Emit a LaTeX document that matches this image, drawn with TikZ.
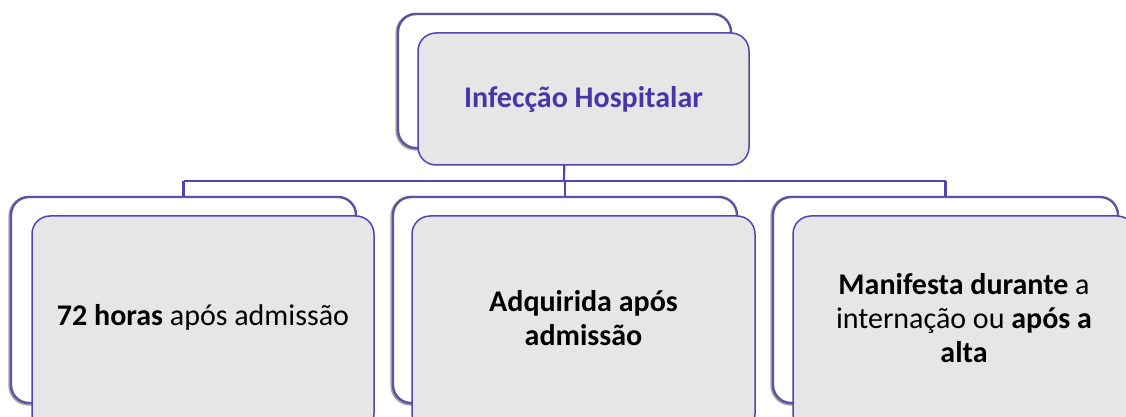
\documentclass[tikz,border=0pt]{standalone}
\usepackage{fontspec}
\setmainfont{Carlito}
\usetikzlibrary{positioning,calc}
\definecolor{boxline}{RGB}{84,68,178}
\definecolor{backline}{RGB}{92,84,160}
\definecolor{titletext}{RGB}{72,54,168}
\definecolor{boxfill}{RGB}{230,230,230}

\begin{document}
\begin{tikzpicture}[x=0.5pt,y=-0.5pt,
    frontbox/.style={draw=boxline, line width=0.75pt, fill=boxfill, rounded corners=9pt, inner sep=0pt},
    backbox/.style={draw=backline, line width=1.2pt, fill=white, rounded corners=9pt, inner sep=0pt,
        preaction={draw=gray!70, line width=1.8pt, transform canvas={shift={(-0.4pt,-0.4pt)}}}},
    boxtext/.style={align=center, font=\fontsize{15}{17}\selectfont},
    link/.style={draw=boxline, line width=1.1pt}]
    \useasboundingbox (0,0) rectangle (1126,417);

    % back frames
    \node[backbox, minimum width=166.5pt, minimum height=67pt] (topback) at (564.5,81) {};
    \node[backbox, minimum width=172.5pt, minimum height=103pt] (leftback) at (183.5,300) {};
    \node[backbox, minimum width=172pt, minimum height=103pt] (midback) at (565,300) {};
    \node[backbox, minimum width=172.5pt, minimum height=103pt] (rightback) at (945.5,300) {};

    % connectors
    \coordinate (bus) at (564,181);
    \draw[link] (topback.south) -- (bus);
    \draw[link] (bus -| leftback.north) -- (bus -| rightback.north);
    \draw[link] (bus -| leftback.north) -- (leftback.north);
    \draw[link] (bus -| midback.north) -- (midback.north);
    \draw[link] (bus -| rightback.north) -- (rightback.north);

    % front boxes
    \node[frontbox, boxtext, minimum width=165.5pt, minimum height=66pt, text=titletext,
        font=\fontsize{15}{17}\selectfont\bfseries] (top) at (583.5,99) {Infecção Hospitalar};
    \node[frontbox, minimum width=171pt, minimum height=108pt] (left) at (203,324) {};
    \node[frontbox, minimum width=171.5pt, minimum height=108pt] (mid) at (583.5,324) {};
    \node[frontbox, minimum width=171pt, minimum height=108pt] (right) at (964,324) {};

    % texts
    \node[boxtext] (lefttext) at (203,317) {\textbf{72 horas} após admissão};
    \node[boxtext] (midtext) at (583.5,318) {\textbf{Adquirida após}\\\textbf{admissão}};
    \node[boxtext] (righttext) at (964,318)
        {\textbf{Manifesta durante} a\\internação ou \textbf{após a}\\\textbf{alta}};
\end{tikzpicture}
\end{document}
